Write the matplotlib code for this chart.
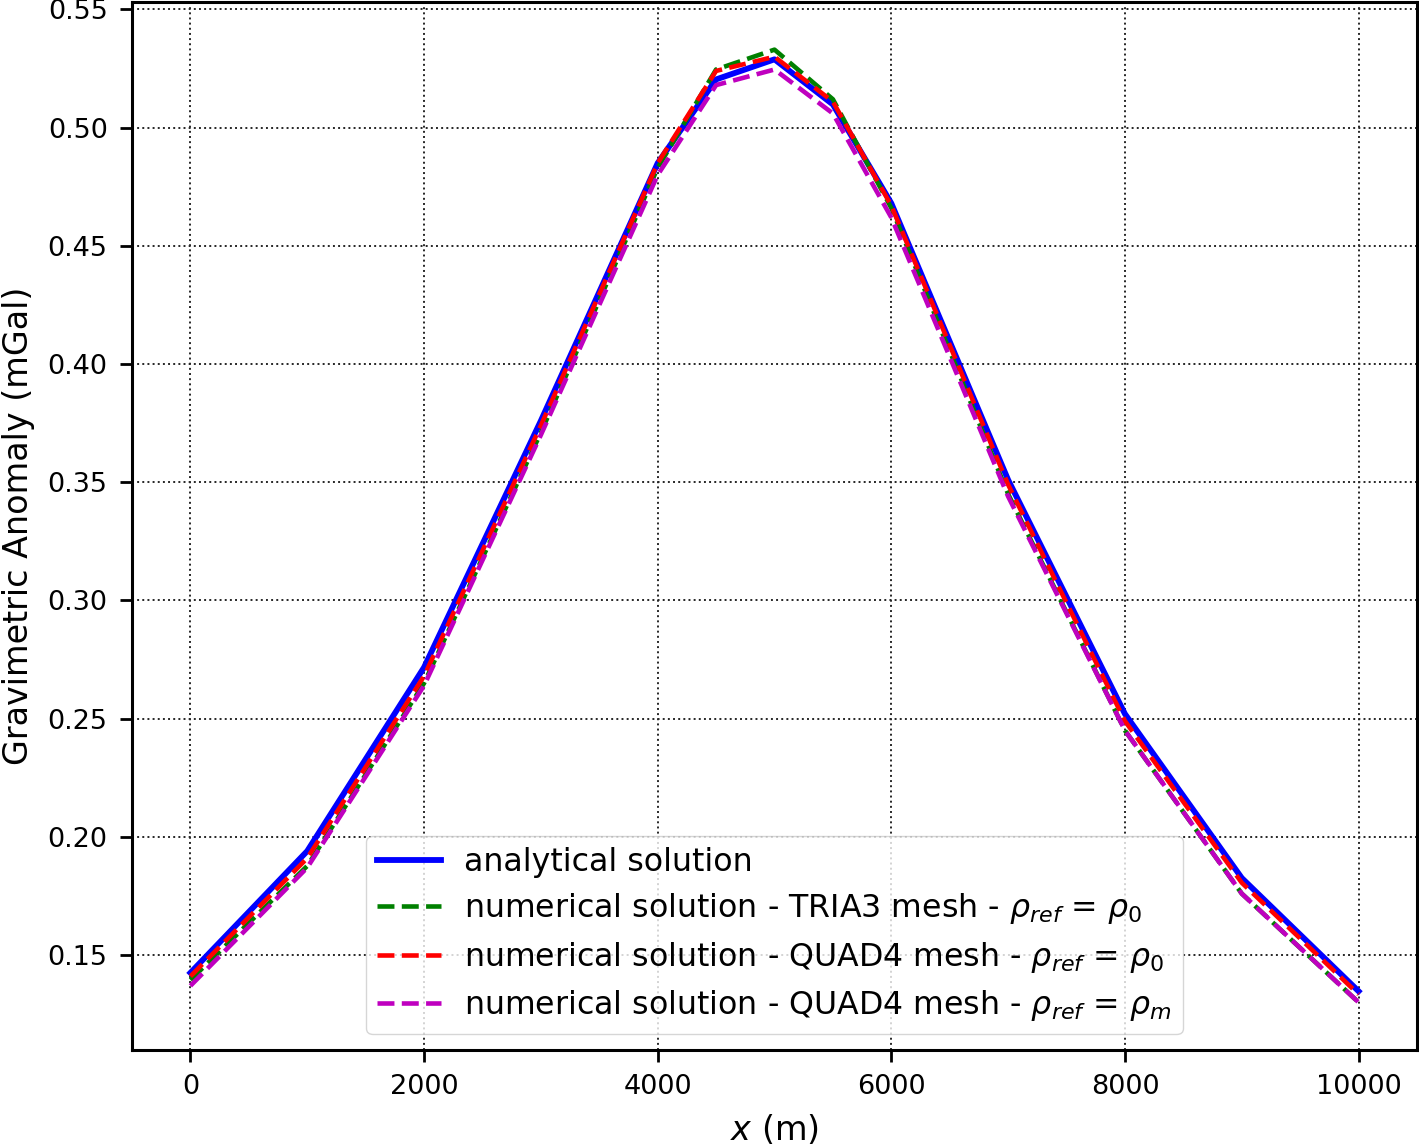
import matplotlib
matplotlib.use("Agg")
import matplotlib.pyplot as plt


# -----------------------------------------------------------
# Datos (x en m, anomalia en mGal)
# -----------------------------------------------------------

x = [0, 1000, 2000, 3000, 4000, 4500, 5000, 5500, 6000, 7000, 8000, 9000, 10000]

analitica = [0.1425, 0.1940, 0.2717, 0.3760, 0.4850, 0.5204, 0.5289, 0.5098,
             0.4680, 0.3510, 0.2520, 0.1826, 0.1347]
tria3_rho0 = [0.1395, 0.1877, 0.2650, 0.3710, 0.4830, 0.5246, 0.5330, 0.5120,
              0.4660, 0.3450, 0.2450, 0.1760, 0.1300]
quad4_rho0 = [0.1410, 0.1910, 0.2680, 0.3740, 0.4850, 0.5240, 0.5300, 0.5110,
              0.4670, 0.3490, 0.2490, 0.1806, 0.1334]
quad4_rhom = [0.1370, 0.1870, 0.2640, 0.3700, 0.4800, 0.5180, 0.5246, 0.5060,
              0.4620, 0.3440, 0.2450, 0.1760, 0.1300]

etiquetas = [
    "analytical solution",
    r"numerical solution - TRIA3 mesh - $\rho_{ref}$ = $\rho_0$",
    r"numerical solution - QUAD4 mesh - $\rho_{ref}$ = $\rho_0$",
    r"numerical solution - QUAD4 mesh - $\rho_{ref}$ = $\rho_m$",
]


# -----------------------------------------------------------
# Grafico
# -----------------------------------------------------------

fig = plt.figure(figsize=(14.19, 11.45), dpi=100)
ax = fig.add_axes([132 / 1419, 1 - 1050 / 1145, 1285 / 1419, 1048 / 1145])

ax.plot(x, analitica, "b-", lw=4.2, label=etiquetas[0])
ax.plot(x, tria3_rho0, "g--", lw=3.3, label=etiquetas[1])
ax.plot(x, quad4_rho0, "r--", lw=3.3, label=etiquetas[2])
ax.plot(x, quad4_rhom, "m--", lw=3.3, label=etiquetas[3])

ax.set_xlabel("$x$ (m)", fontsize=24, labelpad=9)
ax.set_ylabel("Gravimetric Anomaly (mGal)", fontsize=24, labelpad=9)
ax.set_xticks([0, 2000, 4000, 6000, 8000, 10000])
ax.set_yticks([0.15, 0.20, 0.25, 0.30, 0.35, 0.40, 0.45, 0.50, 0.55])
ax.tick_params(labelsize=19.5, length=8.5, width=2, pad=9)
for s in ax.spines.values():
    s.set_linewidth(2.2)

ax.grid(True, linestyle=":", color="0.15", lw=1.4)
ax.legend(loc="lower center", fontsize=22.8, labelspacing=0.42,
          borderpad=0.35, handletextpad=0.75)

fig.savefig("out.png", dpi=100)
